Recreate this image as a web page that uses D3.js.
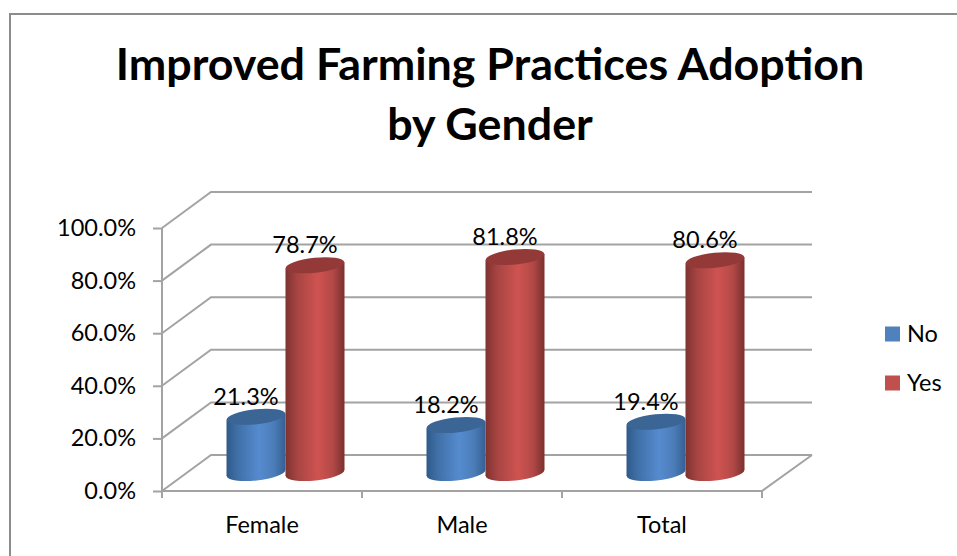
<!DOCTYPE html>
<html>
<head>
<meta charset="utf-8">
<script src="https://d3js.org/d3.v7.min.js"></script>
<style>
  html, body { margin: 0; padding: 0; background: #fff; }
  svg { display: block; }
  text { font-family: Lato, "Open Sans", sans-serif; fill: #000; }
</style>
</head>
<body>
<script>
var categories = ["Female", "Male", "Total"];
var seriesNames = ["No", "Yes"];
var noValues = [21.3, 18.2, 19.4];
var yesValues = [78.7, 81.8, 80.6];
var yTicks = [0, 20, 40, 60, 80, 100];

var width = 957, height = 556;
var depthX = 49, depthY = -36;   // offset of the back wall from the front
var gridColor = "#a3a3a3";
var labelSize = "23.5px";

var svg = d3.select("body").append("svg")
    .attr("width", width)
    .attr("height", height);

// chart frame
svg.append("path")
    .attr("d", "M10,556V14H957")
    .attr("fill", "none")
    .attr("stroke", "#8c8c8c")
    .attr("stroke-width", 2);

// title
var title = svg.append("text")
    .attr("text-anchor", "middle")
    .style("font-weight", 700)
    .style("font-size", "44.8px");
title.append("tspan").attr("x", 490).attr("y", 80).text("Improved Farming Practices Adoption");
title.append("tspan").attr("x", 490).attr("y", 140).text("by Gender");

var x = d3.scaleBand().domain(categories).range([162, 762]);
var y = d3.scaleLinear().domain([0, 100]).range([491, 228]);

var inner = d3.scaleBand().domain(seriesNames).range([0, 118]);
var cylH = d3.scaleLinear().domain([0, 100]).range([0, 264]);

var defs = svg.append("defs");
function shade(id, stops) {
    var g = defs.append("linearGradient").attr("id", id);
    stops.forEach(function (s) {
        g.append("stop").attr("offset", s[0]).attr("stop-color", s[1]);
    });
}
shade("gradNo", [[0, "#2f5a8a"], [0.18, "#3f6fa6"], [0.55, "#558bcf"], [0.8, "#4c7db9"], [1, "#355f92"]]);
shade("gradYes", [[0, "#7e3231"], [0.2, "#a74543"], [0.55, "#cf5350"], [0.8, "#b24947"], [1, "#7a302f"]]);

var gradIds = { No: "url(#gradNo)", Yes: "url(#gradYes)" };
var topColors = { No: "#3a6595", Yes: "#933a39" };
var legendColors = { No: "#4f81bd", Yes: "#c0504d" };

// walls
var grid = svg.append("g")
    .attr("fill", "none")
    .attr("stroke", gridColor)
    .attr("stroke-width", 2);

grid.selectAll(".back").data(yTicks).enter().append("path")
    .attr("class", "back")
    .attr("d", function (d) {
        var px = x.range()[0], py = y(d);
        return "M" + px + "," + py + "L" + (px + depthX) + "," + (py + depthY) + "H" + (x.range()[1] + depthX + 1);
    });

grid.append("path")
    .attr("d", "M" + x.range()[0] + "," + y(0) + "H" + x.range()[1] + "L" + (x.range()[1] + depthX + 1) + "," + (y(0) + depthY));

// y axis
var yAxis = d3.axisLeft(y)
    .tickValues(yTicks)
    .tickSize(9)
    .tickPadding(17)
    .tickFormat(function (d) { return d3.format(".1f")(d) + "%"; });
var yg = svg.append("g").attr("transform", "translate(162,0)").call(yAxis);
yg.selectAll("line, path").attr("stroke", gridColor).attr("stroke-width", 2);
yg.select(".domain").attr("d", "M0," + y(100) + "V" + (y(0) + 6));
yg.selectAll("text").style("font-size", labelSize).attr("fill", "#000");

// x axis
var xAxis = d3.axisBottom(x).tickSize(0).tickPadding(25);
var xg = svg.append("g").attr("transform", "translate(0," + y(0) + ")").call(xAxis);
xg.select(".domain").remove();
xg.selectAll("text").style("font-size", labelSize).attr("fill", "#000");
svg.append("g").selectAll("line")
    .data(d3.range(categories.length + 1))
    .enter().append("line")
    .attr("x1", function (d) { return x.range()[0] + d * x.step(); })
    .attr("x2", function (d) { return x.range()[0] + d * x.step(); })
    .attr("y1", y(0))
    .attr("y2", y(0) + 7)
    .attr("stroke", gridColor)
    .attr("stroke-width", 2);

// cylinders, Yes drawn over No
var baseY = y(0) + depthY / 2;
var rx = 29.5, ry = 7.5, tilt = -6;
var lift = rx * Math.sin(-tilt * Math.PI / 180);
var rows = [];
seriesNames.forEach(function (name, s) {
    var vals = s === 0 ? noValues : yesValues;
    categories.forEach(function (c, i) {
        rows.push({ series: name, cat: c, value: vals[i] });
    });
});

function cylCx(d) {
    return x(d.cat) + x.bandwidth() / 2 + depthX / 2 - 59 + inner(d.series) + inner.bandwidth() / 2 - 1;
}
function cylTop(d) {
    return baseY - cylH(d.value);
}
function bodyPoints(d) {
    var l = cylCx(d) - rx, r = cylCx(d) + rx, t = cylTop(d);
    return [[l, t + lift], [l, baseY + lift], [r, baseY - lift], [r, t - lift]].join(" ");
}

var bars = svg.append("g").selectAll("g").data(rows).enter().append("g");
bars.append("ellipse")
    .attr("rx", rx)
    .attr("ry", ry)
    .attr("transform", function (d) {
        return "translate(" + cylCx(d) + "," + baseY + ") rotate(" + tilt + ")";
    })
    .attr("fill", function (d) { return gradIds[d.series]; });
bars.append("polygon")
    .attr("points", bodyPoints)
    .attr("fill", function (d) { return gradIds[d.series]; });
bars.append("ellipse")
    .attr("rx", rx)
    .attr("ry", ry)
    .attr("transform", function (d) {
        return "translate(" + cylCx(d) + "," + cylTop(d) + ") rotate(" + tilt + ")";
    })
    .attr("fill", function (d) { return topColors[d.series]; });

// value labels
svg.append("g").selectAll("text").data(rows).enter().append("text")
    .attr("x", function (d) { return cylCx(d) - 10; })
    .attr("y", function (d) { return cylTop(d) - 12; })
    .attr("text-anchor", "middle")
    .style("font-size", labelSize)
    .text(function (d) { return d.value.toFixed(1) + "%"; });

// legend
var legendY = d3.scalePoint().domain(seriesNames).range([334, 383]);
var legend = svg.append("g").selectAll("g").data(seriesNames).enter().append("g")
    .attr("transform", function (d) { return "translate(885," + legendY(d) + ")"; });
legend.append("rect")
    .attr("y", -7.5)
    .attr("width", 15)
    .attr("height", 15)
    .attr("fill", function (d) { return legendColors[d]; });
legend.append("text")
    .attr("x", 22)
    .attr("y", 8)
    .style("font-size", labelSize)
    .text(function (d) { return d; });
</script>
</body>
</html>
